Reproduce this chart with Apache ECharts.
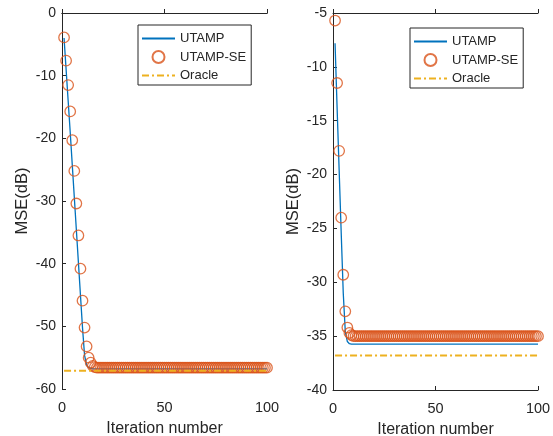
<!DOCTYPE html>
<html><head><meta charset="utf-8">
<script src="https://cdn.jsdelivr.net/npm/echarts@6/dist/echarts.min.js"></script>
<style>html,body{margin:0;padding:0;background:#fff}#c{width:553px;height:436px}</style>
</head><body><div id="c"></div>
<script>
// Left panel
const utampLeft = [-4.0,-9.0,-14.0,-19.0,-24.2,-29.4,-34.6,-39.8,-45.0,-50.2,-54.6,-56.2,-56.6,-56.7,-56.8,-56.8,-56.8,-56.8,-56.8,-56.8,
-56.8,-56.8,-56.8,-56.8,-56.8,-56.8,-56.8,-56.8,-56.8,-56.8,-56.8,-56.8,-56.8,-56.8,-56.8,-56.8,-56.8,-56.8,-56.8,-56.8,
-56.8,-56.8,-56.8,-56.8,-56.8,-56.8,-56.8,-56.8,-56.8,-56.8,-56.8,-56.8,-56.8,-56.8,-56.8,-56.8,-56.8,-56.8,-56.8,-56.8,
-56.8,-56.8,-56.8,-56.8,-56.8,-56.8,-56.8,-56.8,-56.8,-56.8,-56.8,-56.8,-56.8,-56.8,-56.8,-56.8,-56.8,-56.8,-56.8,-56.8,
-56.8,-56.8,-56.8,-56.8,-56.8,-56.8,-56.8,-56.8,-56.8,-56.8,-56.8,-56.8,-56.8,-56.8,-56.8,-56.8,-56.8,-56.8,-56.8,-56.8];
const seLeft = [-3.9,-7.6,-11.5,-15.7,-20.3,-25.2,-30.4,-35.5,-40.8,-45.9,-50.2,-53.2,-55.0,-55.8,-56.3,-56.5,-56.6,-56.6,-56.6,-56.6,
-56.6,-56.6,-56.6,-56.6,-56.6,-56.6,-56.6,-56.6,-56.6,-56.6,-56.6,-56.6,-56.6,-56.6,-56.6,-56.6,-56.6,-56.6,-56.6,-56.6,
-56.6,-56.6,-56.6,-56.6,-56.6,-56.6,-56.6,-56.6,-56.6,-56.6,-56.6,-56.6,-56.6,-56.6,-56.6,-56.6,-56.6,-56.6,-56.6,-56.6,
-56.6,-56.6,-56.6,-56.6,-56.6,-56.6,-56.6,-56.6,-56.6,-56.6,-56.6,-56.6,-56.6,-56.6,-56.6,-56.6,-56.6,-56.6,-56.6,-56.6,
-56.6,-56.6,-56.6,-56.6,-56.6,-56.6,-56.6,-56.6,-56.6,-56.6,-56.6,-56.6,-56.6,-56.6,-56.6,-56.6,-56.6,-56.6,-56.6,-56.6];
const oracleLeft = [-57.1,-57.1];
// Right panel
const utampRight = [-7.8,-13.8,-19.6,-25.4,-31.0,-34.6,-35.5,-35.7,-35.75,-35.75,-35.75,-35.75,-35.75,-35.75,-35.75,-35.75,-35.75,-35.75,-35.75,-35.75,
-35.75,-35.75,-35.75,-35.75,-35.75,-35.75,-35.75,-35.75,-35.75,-35.75,-35.75,-35.75,-35.75,-35.75,-35.75,-35.75,-35.75,-35.75,-35.75,-35.75,
-35.75,-35.75,-35.75,-35.75,-35.75,-35.75,-35.75,-35.75,-35.75,-35.75,-35.75,-35.75,-35.75,-35.75,-35.75,-35.75,-35.75,-35.75,-35.75,-35.75,
-35.75,-35.75,-35.75,-35.75,-35.75,-35.75,-35.75,-35.75,-35.75,-35.75,-35.75,-35.75,-35.75,-35.75,-35.75,-35.75,-35.75,-35.75,-35.75,-35.75,
-35.75,-35.75,-35.75,-35.75,-35.75,-35.75,-35.75,-35.75,-35.75,-35.75,-35.75,-35.75,-35.75,-35.75,-35.75,-35.75,-35.75,-35.75,-35.75,-35.75];
const seRight = [-5.7,-11.5,-17.8,-24.0,-29.3,-32.7,-34.2,-34.7,-34.9,-35.0,-35.0,-35.0,-35.0,-35.0,-35.0,-35.0,-35.0,-35.0,-35.0,-35.0,
-35.0,-35.0,-35.0,-35.0,-35.0,-35.0,-35.0,-35.0,-35.0,-35.0,-35.0,-35.0,-35.0,-35.0,-35.0,-35.0,-35.0,-35.0,-35.0,-35.0,
-35.0,-35.0,-35.0,-35.0,-35.0,-35.0,-35.0,-35.0,-35.0,-35.0,-35.0,-35.0,-35.0,-35.0,-35.0,-35.0,-35.0,-35.0,-35.0,-35.0,
-35.0,-35.0,-35.0,-35.0,-35.0,-35.0,-35.0,-35.0,-35.0,-35.0,-35.0,-35.0,-35.0,-35.0,-35.0,-35.0,-35.0,-35.0,-35.0,-35.0,
-35.0,-35.0,-35.0,-35.0,-35.0,-35.0,-35.0,-35.0,-35.0,-35.0,-35.0,-35.0,-35.0,-35.0,-35.0,-35.0,-35.0,-35.0,-35.0,-35.0];
const oracleRight = [-36.8,-36.8];
const oracleX = [1, 100];
const iterations = utampLeft.map((_, i) => i + 1);
const seriesNames = ['UTAMP', 'UTAMP-SE', 'Oracle'];

const FONT = 'Liberation Sans, Arial, Helvetica, sans-serif';
const INK = '#262626';
const BLUE = '#0072BD', ORANGE = '#D95319', YELLOW = '#EDB120';

const pairs = (xs, ys) => ys.map((v, i) => [xs[i], v]);

function xAxes(gi) {
  return [
    { gridIndex: gi, type: 'value', min: 0, max: 100, interval: 50, position: 'bottom',
      name: 'Iteration number', nameLocation: 'middle', nameGap: 32,
      nameTextStyle: { fontFamily: FONT, fontSize: 16, color: INK },
      axisLine: { show: true, lineStyle: { color: INK, width: 1 } },
      axisTick: { show: true, inside: true, length: 4, lineStyle: { color: INK } },
      axisLabel: { fontFamily: FONT, fontSize: 14.5, color: INK, margin: 11 },
      splitLine: { show: false } },
    { gridIndex: gi, type: 'value', min: 0, max: 100, interval: 50, position: 'top',
      axisLine: { show: true, lineStyle: { color: INK, width: 1 } },
      axisTick: { show: true, inside: false, length: 4, lineStyle: { color: INK } },
      axisLabel: { show: false }, splitLine: { show: false } }
  ];
}
function yAxes(gi, min, max, interval) {
  return [
    { gridIndex: gi, type: 'value', min, max, interval, position: 'left',
      name: 'MSE(dB)', nameLocation: 'middle', nameGap: 31,
      nameTextStyle: { fontFamily: FONT, fontSize: 16.5, color: INK },
      axisLine: { show: true, lineStyle: { color: INK, width: 1 } },
      axisTick: { show: true, inside: true, length: 4, lineStyle: { color: INK } },
      axisLabel: { fontFamily: FONT, fontSize: 14, color: INK, margin: 6 },
      splitLine: { show: false } },
    { gridIndex: gi, type: 'value', min, max, interval, position: 'right',
      axisLine: { show: true, lineStyle: { color: INK, width: 1 } },
      axisTick: { show: true, inside: false, length: 4, lineStyle: { color: INK } },
      axisLabel: { show: false }, splitLine: { show: false } }
  ];
}
function panelSeries(gi, ut, se, orc) {
  const xi = gi * 2, yi = gi * 2;
  return [
    { name: seriesNames[0], type: 'line', xAxisIndex: xi, yAxisIndex: yi, data: pairs(iterations, ut),
      symbol: 'none', lineStyle: { color: BLUE, width: 1.3 }, itemStyle: { color: BLUE }, z: 2, animation: false },
    { name: seriesNames[1], type: 'scatter', xAxisIndex: xi, yAxisIndex: yi, data: pairs(iterations, se),
      symbol: 'circle', symbolSize: 10.5,
      itemStyle: { color: 'rgba(0,0,0,0)', borderColor: ORANGE, borderWidth: 1.3 }, z: 3, animation: false },
    { name: seriesNames[2], type: 'line', xAxisIndex: xi, yAxisIndex: yi, data: pairs(oracleX, orc),
      symbol: 'none', lineStyle: { color: YELLOW, width: 2, type: [7, 3, 2, 3] }, itemStyle: { color: YELLOW }, z: 4, animation: false }
  ];
}
function legend(left, top) {
  const hide = { color: 'rgba(0,0,0,0)', borderWidth: 0, opacity: 0 };
  return { orient: 'vertical', left, top,
    data: [
      { name: seriesNames[0], itemStyle: hide },
      { name: seriesNames[1] },
      { name: seriesNames[2], itemStyle: hide }
    ],
    itemWidth: 33, itemHeight: 12, itemGap: 5,
    padding: [7, 5, 3, 3], borderColor: INK, borderWidth: 1, backgroundColor: '#fff',
    textStyle: { fontFamily: FONT, fontSize: 13, color: INK }, selectedMode: false };
}

const chart = echarts.init(document.getElementById('c'), null, { renderer: 'canvas' });
chart.setOption({
  animation: false,
  backgroundColor: '#fff',
  grid: [
    { left: 62, right: 286, top: 13, bottom: 47, containLabel: false, outerBoundsMode: 'none' },
    { left: 333, right: 15, top: 13, bottom: 46, containLabel: false, outerBoundsMode: 'none' }
  ],
  xAxis: [...xAxes(0), ...xAxes(1)],
  yAxis: [...yAxes(0, -60, 0, 10), ...yAxes(1, -40, -5, 5)],
  legend: [legend(138, 25), legend(410, 28)],
  series: [...panelSeries(0, utampLeft, seLeft, oracleLeft), ...panelSeries(1, utampRight, seRight, oracleRight)]
});
</script></body></html>
